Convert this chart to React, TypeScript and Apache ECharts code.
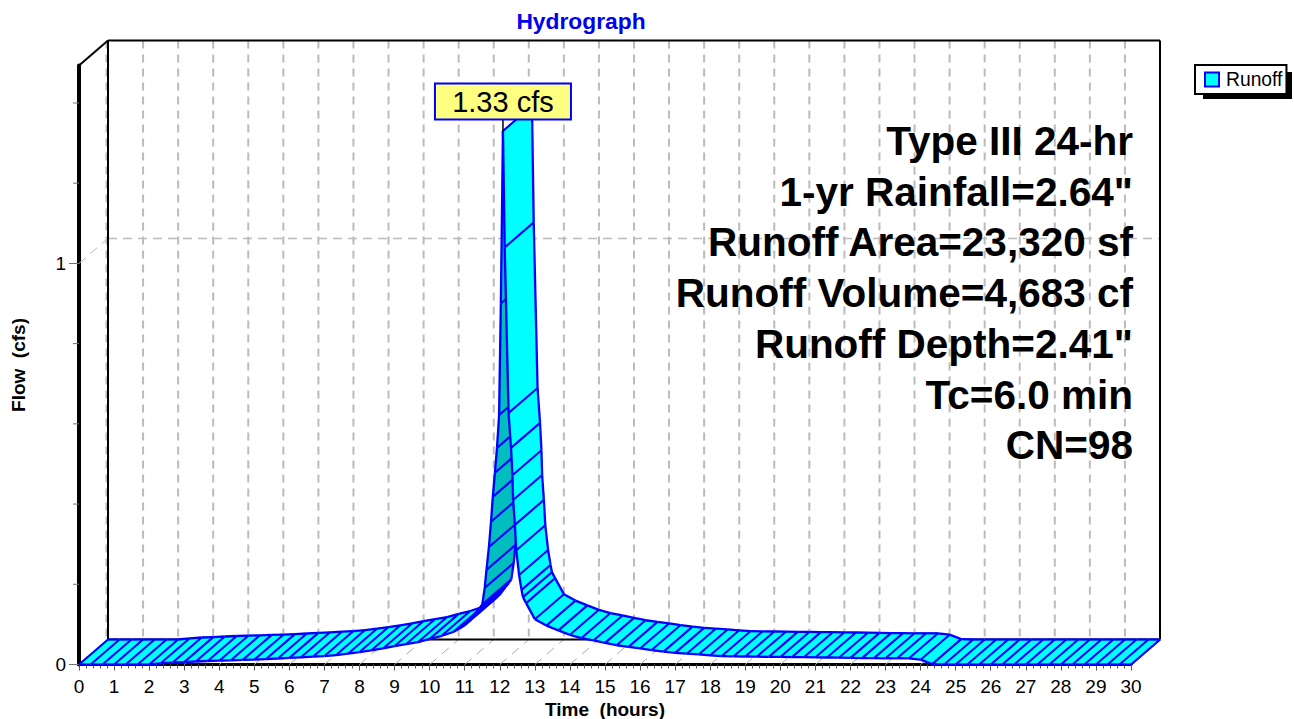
import React, { useEffect, useRef } from "react";
import * as echarts from "echarts";

const FONT = '"Liberation Sans", Arial, sans-serif';

const timeHours = [
  0, 0.33, 0.67, 1, 1.33, 1.67, 2, 2.33, 2.67, 3, 3.33, 3.67, 4, 4.33, 4.67, 5, 5.33, 5.67, 6, 6.33, 6.67, 7, 7.33, 7.67,
  8, 8.33, 8.67, 9, 9.33, 9.67, 10, 10.33, 10.67, 10.85, 11, 11.1, 11.2, 11.33, 11.42, 11.5, 11.57, 11.62, 11.69, 11.75,
  11.8, 11.86, 11.92, 11.98, 12.03, 12.09, 12.14, 12.25, 12.32, 12.36, 12.38, 12.43, 12.47, 12.55, 12.62, 12.66, 12.75,
  13, 13.33, 13.67, 14, 14.33, 14.67, 15, 15.33, 15.67, 16, 16.33, 16.67, 17, 17.33, 17.67, 18, 18.33, 18.67, 19, 19.33,
  19.67, 20, 20.33, 20.67, 21, 21.33, 21.67, 22, 22.33, 22.67, 23, 23.33, 23.67, 24, 24.33, 24.67, 25, 25.33, 25.67, 26,
  26.33, 26.67, 27, 27.33, 27.67, 28, 28.33, 28.67, 29, 29.33, 29.67, 30,
];
const flowCfs = [
  0, 0, 0, 0, 0, 0, 0, 0.003, 0.005, 0.006, 0.0075, 0.0087, 0.0095, 0.0105, 0.0115, 0.012, 0.0135, 0.015, 0.0165, 0.018, 0.0195, 0.021, 0.0235, 0.027,
  0.031, 0.035, 0.04, 0.046, 0.051, 0.056, 0.064, 0.071, 0.081, 0.09, 0.098, 0.106, 0.115, 0.13, 0.14, 0.15, 0.191, 0.236, 0.293, 0.356,
  0.418, 0.478, 0.54, 0.622, 0.9, 1.33, 1.04, 0.627, 0.54, 0.472, 0.41, 0.348, 0.285, 0.223, 0.186, 0.168, 0.153,
  0.113, 0.097, 0.085, 0.074, 0.066, 0.06, 0.054, 0.048, 0.044, 0.04, 0.036, 0.032, 0.029, 0.027, 0.025, 0.023, 0.021, 0.0205, 0.02, 0.0195,
  0.019, 0.0188, 0.0185, 0.0182, 0.018, 0.0175, 0.017, 0.0165, 0.016, 0.0158, 0.0155, 0.0155, 0.0155, 0.012, 0.001, 0, 0, 0, 0, 0,
  0, 0, 0, 0, 0, 0, 0, 0, 0, 0, 0, 0,
];
const xTicks = [0, 1, 2, 3, 4, 5, 6, 7, 8, 9, 10, 11, 12, 13, 14, 15, 16, 17, 18, 19, 20, 21, 22, 23, 24, 25, 26, 27, 28, 29, 30];
const yLabelValues = [0, 1];
const yMinorValues = [0.2, 0.4, 0.6, 0.8, 1.2, 1.4];
const yGridValues = [1];
const yMax = 1.4934;
const peakTime = 12.09;
const peakFlow = 1.33;
const peakLabel = "1.33 cfs";
const statLines = [
  "Type III 24-hr",
  '1-yr Rainfall=2.64"',
  "Runoff Area=23,320 sf",
  "Runoff Volume=4,683 cf",
  'Runoff Depth=2.41"',
  "Tc=6.0 min",
  "CN=98",
];

const DX = 29;
const DY = -25;
const BLUE = "#0000FF";
const CYAN = "#00FFFF";
const DARK = "#00BEBE";
const GRID = "#BBBBBB";

const ln = (x1: number, y1: number, x2: number, y2: number, stroke: string, lineWidth: number, lineDash?: number[]) => ({
  type: "line",
  shape: { x1, y1, x2, y2 },
  style: { stroke, lineWidth, lineDash: lineDash || null, fill: null },
  silent: true,
});

function renderFrame(_p: any, api: any) {
  const kids: any[] = [];
  const o = api.coord([0, 0]);
  const end = api.coord([30, 0]);
  const top = api.coord([0, yMax]);
  xTicks.forEach((t) => {
    const p = api.coord([t, 0]);
    if (t > 0 && t < 30) kids.push(ln(p[0] + DX, top[1] + DY, p[0] + DX, o[1] + DY, GRID, 2, [8, 6]));
    if (t > 0 && t < 30) kids.push(ln(p[0], p[1], p[0] + DX, p[1] + DY, "#A8A8A8", 1, [9, 7]));
  });
  kids.push(ln(o[0] + DX - 1.5, top[1] + DY, o[0] + DX - 1.5, o[1] + DY, GRID, 2, [8, 6]));
  yGridValues.forEach((v) => {
    const p = api.coord([0, v]);
    kids.push(ln(p[0], p[1], p[0] + DX, p[1] + DY, GRID, 1, [9, 6]));
    kids.push(ln(p[0] + DX, p[1] + DY, end[0] + DX, p[1] + DY, GRID, 1.5, [9, 6]));
  });
  yMinorValues.forEach((v) => {
    const p = api.coord([0, v]);
    kids.push(ln(p[0] - 6, p[1], p[0], p[1], "#707070", 1));
  });
  kids.push(ln(o[0] + DX, top[1] + DY, end[0] + DX, top[1] + DY, "#000", 2));
  kids.push(ln(o[0] + DX, top[1] + DY, o[0] + DX, o[1] + DY, "#000", 2));
  kids.push(ln(end[0] + DX, top[1] + DY, end[0] + DX, o[1] + DY, "#000", 2));
  kids.push(ln(o[0], top[1], o[0] + DX, top[1] + DY, "#000", 2));
  kids.push(ln(o[0] + DX, o[1] + DY, end[0] + DX, o[1] + DY, "#000", 2));
  kids.push(ln(end[0], end[1], end[0] + DX, end[1] + DY, "#000", 2));
  return { type: "group", children: kids };
}

function renderRibbon(params: any, api: any) {
  const i = params.dataIndex;
  const kids: any[] = [];
  const f0 = api.coord([api.value(0), api.value(1)]);
  const b0 = [f0[0] + DX, f0[1] + DY];
  if (i < timeHours.length - 1) {
    const f1 = api.coord([timeHours[i + 1], flowCfs[i + 1]]);
    const b1 = [f1[0] + DX, f1[1] + DY];
    const cross = (f1[0] - f0[0]) * DY - (f1[1] - f0[1]) * DX;
    const fill = cross > 0 ? DARK : CYAN;
    kids.push({
      type: "polygon",
      shape: { points: [f0, f1, b1, b0] },
      style: { fill, stroke: fill, lineWidth: 0.5 },
      silent: true,
    });
    kids.push(ln(f0[0], f0[1], f1[0], f1[1], BLUE, 2.3));
    kids.push(ln(b0[0], b0[1], b1[0], b1[1], BLUE, 2.3));
  }
  kids.push(ln(f0[0], f0[1], b0[0], b0[1], BLUE, 2.1));
  return { type: "group", children: kids };
}

function renderPeak(_p: any, api: any) {
  const p = api.coord([api.value(0), api.value(1)]);
  return {
    type: "group",
    children: [
      ln(p[0], p[1], p[0], p[1] - 15, "#000", 1.5),
      {
        type: "rect",
        shape: { x: p[0] - 68, y: p[1] - 47.5, width: 136, height: 36 },
        style: { fill: "#FFFF80", stroke: BLUE, lineWidth: 2 },
      },
      {
        type: "text",
        style: {
          x: p[0],
          y: p[1] - 29.5,
          text: peakLabel,
          fill: "#000",
          font: `29px ${FONT}`,
          align: "center",
          verticalAlign: "middle",
        },
      },
    ],
  };
}

export default function App() {
  const ref = useRef<HTMLDivElement>(null);
  useEffect(() => {
    const chart = echarts.init(ref.current!, undefined, { renderer: "svg" });
    chart.setOption({
      animation: false,
      backgroundColor: "#fff",
      textStyle: { fontFamily: FONT },
      title: {
        text: "Hydrograph",
        left: 576,
        top: 4,
        textAlign: "center",
        textStyle: { fontSize: 22.8, fontWeight: "bold", color: "#0000EE", fontFamily: FONT },
      },
      legend: {
        show: true,
        left: 1195,
        top: 65,
        z: 10,
        orient: "vertical",
        padding: [5, 4, 5, 9],
        itemWidth: 14,
        itemHeight: 14,
        icon: "rect",
        backgroundColor: "#fff",
        borderColor: "#000",
        borderWidth: 2,
        borderRadius: 0,
        data: ["Runoff"],
        textStyle: { fontSize: 19.3, color: "#000", fontFamily: FONT, padding: [0, 0, 0, 2] },
      },
      grid: { left: 79, top: 65.5, width: 1052, height: 599, containLabel: false, outerBoundsMode: "none" },
      xAxis: {
        type: "value",
        min: 0,
        max: 30,
        interval: 1,
        name: "Time  (hours)",
        nameLocation: "middle",
        nameGap: 33,
        nameTextStyle: { fontSize: 19, fontWeight: "bold", color: "#000", fontFamily: FONT },
        axisLine: { show: true, onZero: false, lineStyle: { color: "#000", width: 3 } },
        axisTick: { show: true, length: 6, lineStyle: { color: "#555", width: 1 } },
        minorTick: { show: true, splitNumber: 5, length: 4, lineStyle: { color: "#555", width: 1 } },
        axisLabel: { show: true, margin: 12, fontSize: 19, color: "#000", fontFamily: FONT },
        splitLine: { show: false },
      },
      yAxis: {
        type: "value",
        min: 0,
        max: yMax,
        name: "Flow  (cfs)",
        nameLocation: "middle",
        nameGap: 51,
        nameRotate: 90,
        nameTextStyle: { fontSize: 19, fontWeight: "bold", color: "#000", fontFamily: FONT },
        axisLine: { show: true, onZero: false, lineStyle: { color: "#000", width: 4 } },
        axisTick: { show: true, length: 10, customValues: yLabelValues, lineStyle: { color: "#707070", width: 1 } },
        axisLabel: { show: true, margin: 13, fontSize: 19, color: "#000", fontFamily: FONT, customValues: yLabelValues },
        splitLine: { show: false },
      },
      graphic: statLines.map((text, i) => ({
        type: "text",
        z: 50,
        style: {
          x: 1133,
          y: 141 + i * 50.7,
          text,
          fill: "#000",
          font: `bold 40.5px ${FONT}`,
          align: "right",
          verticalAlign: "middle",
        },
      })),
      series: [
        { type: "custom", name: "frame", data: [[0, 0]], renderItem: renderFrame, silent: true, z: 1 },
        {
          type: "custom",
          name: "Runoff",
          data: timeHours.map((t, i) => [t, flowCfs[i]]),
          renderItem: renderRibbon,
          encode: { x: 0, y: 1 },
          itemStyle: { color: CYAN, borderColor: BLUE, borderWidth: 2 },
          silent: true,
          z: 3,
        },
        { type: "custom", name: "peak", data: [[peakTime, peakFlow]], renderItem: renderPeak, silent: true, z: 4 },
      ],
    });
    return () => chart.dispose();
  }, []);
  return (
    <div style={{ position: "absolute", left: 0, top: 0, width: 1294, height: 719 }}>
      <div ref={ref} style={{ position: "absolute", left: 0, top: 0, width: 1294, height: 719 }} />
      <div style={{ position: "absolute", left: 1287, top: 72, width: 5, height: 27, background: "#000" }} />
      <div style={{ position: "absolute", left: 1203, top: 94, width: 89, height: 5, background: "#000" }} />
    </div>
  );
}
